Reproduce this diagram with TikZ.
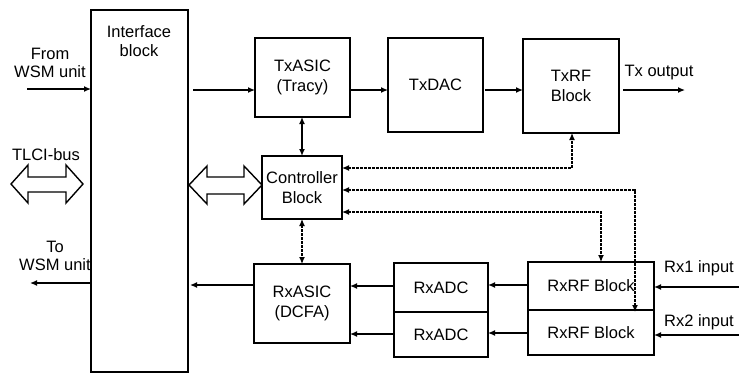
\documentclass[tikz,border=0pt]{standalone}
\usepackage{fontspec}
\setmainfont{Liberation Sans}
\usetikzlibrary{arrows.meta}
\begin{document}
\begin{tikzpicture}[x=1pt,y=-1pt,
  box/.style={draw,line width=1.4pt,inner sep=0pt,outer sep=0pt,align=center,font=\fontsize{16.5}{19.5}\selectfont},
  lbl/.style={inner sep=0pt,align=center,font=\fontsize{16.5}{18.5}\selectfont},
  sig/.style={line width=1.3pt,-{Latex[length=7pt,width=6pt]}},
  bsig/.style={line width=1.3pt,{Latex[length=7pt,width=6pt]}-{Latex[length=7pt,width=6pt]}},
  ctl/.style={line width=1.2pt,dash pattern=on 3pt off 1pt,{Latex[length=7pt,width=6pt]}-{Latex[length=7pt,width=6pt]}},
  barrow/.style={draw,line width=1.4pt,line join=miter}]
\useasboundingbox (0,0) rectangle (739,376);
% blocks
\node[box,minimum width=97pt,minimum height=362pt] (ifb) at (139.5,191) {};
\node[lbl] (iftext) at (139,41) {Interface\\block};
\node[box,minimum width=95pt,minimum height=79pt] (txasic) at (302.5,77.5) {TxASIC\\(Tracy)};
\node[box,minimum width=95pt,minimum height=94pt] (txdac) at (435.5,85) {TxDAC};
\node[box,minimum width=96pt,minimum height=94pt] (txrf) at (571,86) {TxRF\\Block};
\node[box,minimum width=80pt,minimum height=63pt] (ctrl) at (302,187.5) {Controller\\Block};
\node[box,minimum width=96pt,minimum height=79pt] (rxasic) at (302,303.5) {RxASIC\\(DCFA)};
\node[box,minimum width=94pt,minimum height=49pt] (rxadc1) at (441,287.5) {RxADC};
\node[box,minimum width=94pt,minimum height=45pt] (rxadc2) at (441,334.5) {RxADC};
\node[box,minimum width=126pt,minimum height=48pt] (rxrf1) at (591,286) {RxRF Block};
\node[box,minimum width=126pt,minimum height=45pt] (rxrf2) at (591,332.5) {RxRF Block};
% labels
\node[lbl] (from) at (50,63) {From\\WSM unit};
\node[lbl] (tlci) at (46,155) {TLCI-bus};
\node[lbl] (to) at (55,256) {To\\WSM unit};
\node[lbl] (txout) at (659,73) {Tx output};
\node[lbl] (rx1) at (699,268) {Rx1 input};
\node[lbl] (rx2) at (699,322) {Rx2 input};
% free ends
\coordinate (fromS) at (27,89);
\coordinate (a1) at (193,90);
\coordinate (toutS) at (623,90);
\coordinate (toutE) at (685,90);
\coordinate (toE) at (30,283);
\coordinate (rx1S) at (739,287);
\coordinate (rx2S) at (739,335);
\coordinate (cA) at (572,168);
\coordinate (cB) at (635,190);
\coordinate (cC) at (601,212);
\coordinate (r1) at (0,286);
\coordinate (r2) at (0,334);
\coordinate (r0) at (0,285);
% signals
\draw[sig] (fromS) -- (fromS -| ifb.west);
\draw[sig] (a1) -- (a1 -| txasic.west);
\draw[sig] (a1 -| txasic.east) -- (a1 -| txdac.west);
\draw[sig] ([xshift=2pt]a1 -| txdac.east) -- (a1 -| txrf.west);
\draw[sig] (toutS) -- (toutE);
\draw[bsig] (ctrl.north) -- (ctrl.north |- txasic.south);
\draw[ctl] (ctrl.south) -- (ctrl.south |- rxasic.north);
\draw[sig] (r0 -| rxasic.west) -- ([xshift=2pt]r0 -| ifb.east);
\draw[sig] (toE -| ifb.west) -- (toE);
\draw[sig] (r1 -| rxadc1.west) -- (r1 -| rxasic.east);
\draw[sig] (r2 -| rxadc2.west) -- (r2 -| rxasic.east);
\draw[sig] ([yshift=1pt]r1 -| rxrf1.west) -- ([yshift=1pt]r1 -| rxadc1.east);
\draw[sig] ([yshift=1pt]r2 -| rxrf2.west) -- ([yshift=1pt]r2 -| rxadc2.east);
\draw[sig] (rx1S) -- (rx1S -| rxrf1.east);
\draw[sig] (rx2S) -- (rx2S -| rxrf2.east);
% control lines
\draw[ctl] (cA -| ctrl.east) -- (cA) -- (cA |- txrf.south);
\draw[ctl] (cB -| ctrl.east) -- (cB) -- ([yshift=-2pt]cB |- rxrf2.north);
\draw[ctl] (cC -| ctrl.east) -- (cC) -- (cC |- rxrf1.north);
% bus arrows
\coordinate (bl) at (11,184);
\coordinate (br) at (83,184);
\draw[barrow] (bl) -- ++(17,-19) -- ++(0,12) -- ++(38,0) -- ++(0,-12) -- (br) -- ++(-17,19) -- ++(0,-11) -- ++(-38,0) -- ++(0,11) -- cycle;
\coordinate (cl) at (189,185);
\draw[barrow] (cl) -- ++(18,-19) -- ++(0,11) -- ++(37,0) -- ++(0,-11) -- (cl -| ctrl.west) -- ++(-18,19) -- ++(0,-10) -- ++(-37,0) -- ++(0,10) -- cycle;
\end{tikzpicture}
\end{document}
